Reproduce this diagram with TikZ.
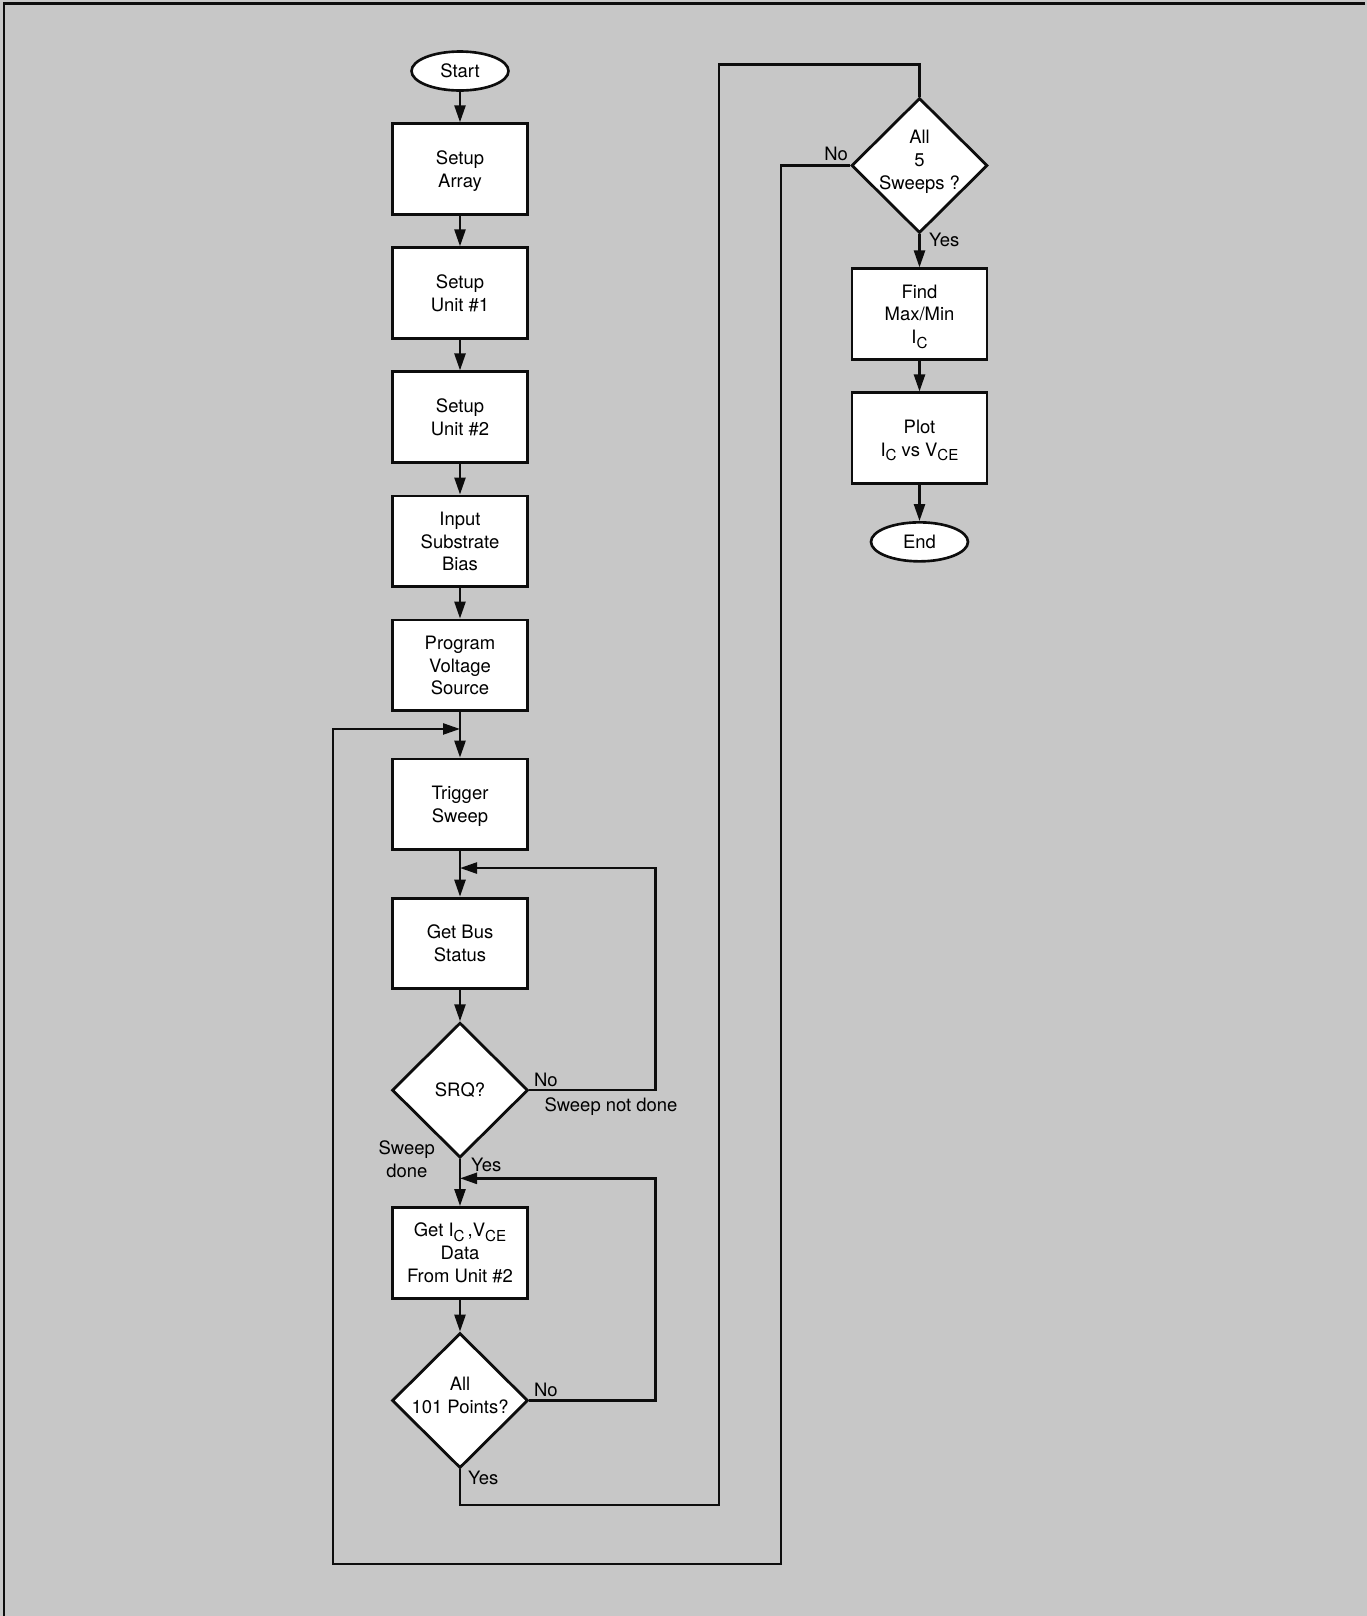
\documentclass[tikz,border=0pt]{standalone}
\usepackage{fontspec}
\setmainfont{TeX Gyre Heros}
\usetikzlibrary{arrows.meta,positioning,shapes.geometric,calc}
\definecolor{screen}{gray}{0.78}
\definecolor{ink}{gray}{0.05}
\newcommand\lowsub[1]{\raisebox{-0.45ex}{\fontsize{8.6}{10}\selectfont #1}}

\begin{document}
\begin{tikzpicture}[
  node distance=6.1mm,
  font=\fontsize{10.5}{13}\selectfont,
  box/.style={draw=ink,line width=1.6pt,fill=white,minimum width=2.7cm,
    minimum height=1.815cm,align=center,inner sep=1pt,text depth=0pt},
  term/.style={draw=ink,line width=1.5pt,fill=white,ellipse,minimum width=1.94cm,
    minimum height=0.78cm,inner sep=0pt},
  test/.style={draw=ink,line width=1.6pt,fill=white,diamond,aspect=1,minimum width=2.72cm,
    minimum height=2.7cm,inner sep=-3pt,align=center},
  lbl/.style={inner sep=1pt,align=center},
  flow/.style={line width=1.4pt,draw=ink},
  arrow/.style={flow,-{Triangle[length=3.4mm,width=2.2mm]}}]
\useasboundingbox (0,0) rectangle (27.34,-32.32);
\fill[screen] (0,0) rectangle (27.34,-32.32);
\draw[line width=1.4pt,draw=ink] (27.3,-0.07) -- (0.08,-0.07) -- (0.08,-32.32);
% main column
\node[term] (start) at (9.2,-1.42) {Start};
\node[box,below=of start] (arr) {Setup\\Array};
\node[box,below=of arr] (unita) {Setup\\Unit \#1};
\node[box,below=of unita] (unitb) {Setup\\Unit \#2};
\node[box,below=of unitb] (bias) {Input\\Substrate\\Bias};
\node[box,below=of bias] (prog) {Program\\Voltage\\Source};
\node[box,below=9.1mm of prog] (trig) {Trigger\\Sweep};
\node[box,below=9.1mm of trig] (bus) {Get Bus\\Status};
\node[test,below=6.2mm of bus] (srq) {SRQ?};
\node[box,below=9.4mm of srq] (data) {Get I\lowsub{C}\,,V\lowsub{CE}\\Data\\From Unit \#2};
\node[test,below=6.4mm of data,text depth=2.2mm] (pts) {All\\101 Points?};
% right column
\node[test,text depth=2.4mm] (sweeps) at (18.39,-3.31) {All\\5\\Sweeps ?};
\node[box,below=6.6mm of sweeps] (find) {Find\\Max/Min\\I\lowsub{C}};
\node[box,below=of find] (plot) {Plot\\I\lowsub{C} vs V\lowsub{CE}};
\node[term,below=7.2mm of plot] (stop) {End};
% junctions on the main line
\coordinate (j0) at ($(prog.south)!.37!(trig.north)$);
\coordinate (j1) at ($(trig.south)!.37!(bus.north)$);
\coordinate (j2) at ($(srq.south)!.41!(data.north)$);
% labels
\node[lbl,above right=0.3mm and 0.5mm of srq.east] (srqno) {No};
\node[lbl,below right=1mm and 2.6mm of srq.east] (notdone) {Sweep not done};
\node[lbl,left=4.6mm of srq.south] (done) {Sweep\\done};
\node[lbl,right=1.8mm of srq.south,yshift=-1.2mm] (srqyes) {Yes};
\node[lbl,above right=0.3mm and 0.5mm of pts.east] (ptsno) {No};
\node[lbl,right=1.2mm of pts.south,yshift=-1.6mm] (ptsyes) {Yes};
\node[lbl,above left=0.6mm and 0mm of sweeps.west] (swno) {No};
\node[lbl,right=1.5mm of sweeps.south,yshift=-1mm] (swyes) {Yes};
% connectors
\draw[arrow] (start)--(arr); \draw[arrow] (arr)--(unita); \draw[arrow] (unita)--(unitb);
\draw[arrow] (unitb)--(bias); \draw[arrow] (bias)--(prog); \draw[arrow] (prog)--(trig);
\draw[arrow] (trig)--(bus); \draw[arrow] (bus)--(srq); \draw[arrow] (srq)--(data);
\draw[arrow] (data)--(pts);
\draw[arrow] (srq.east) -- ++(2.52,0) |- (j1);
\draw[arrow] (pts.east) -- ++(2.52,0) |- (j2);
\draw[flow] (pts.south) |- (14.38,-30.1) |- ($(sweeps.north)+(0,0.64)$) -- (sweeps.north);
\draw[arrow] (sweeps.west) -- ++(-1.38,0) |- (6.66,-31.28) |- (j0);
\draw[arrow] (sweeps)--(find); \draw[arrow] (find)--(plot); \draw[arrow] (plot)--(stop);
\end{tikzpicture}
\end{document}
